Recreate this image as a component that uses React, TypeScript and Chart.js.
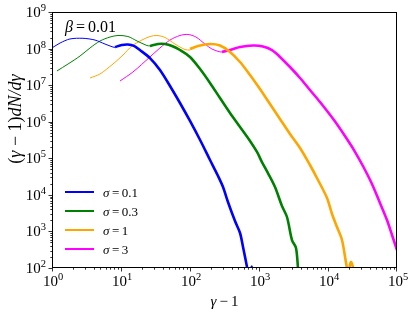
import React, { useEffect, useRef } from "react";
import { Chart, registerables } from "chart.js";

Chart.register(...registerables);

type Pt = [number, number];

// ---- data ----
const SIGMA_VALUES = ["0.1", "0.3", "1", "3"];
const SERIES_COLORS = ["#0000ff", "#008000", "#ffa500", "#ff00ff"];
const BETA_VALUE = "0.01";

// initial (thin) spectra
const sigma01Initial: Pt[] = [
  [1, 1.04e8], [1.31, 1.42e8], [1.82, 1.83e8], [2.81, 1.91e8], [4.2, 1.71e8],
  [5.86, 1.33e8], [7.66, 1.1e8], [8.19, 1.08e8],
];
const sigma03Initial: Pt[] = [
  [1.18, 2.44e7], [1.71, 3.79e7], [2.55, 6.27e7], [3.56, 1.04e8], [4.96, 1.61e8],
  [6.93, 2.07e8], [9.05, 2.28e8], [12.6, 2.14e8], [17.1, 1.61e8], [23.8, 1.21e8], [26.3, 1.18e8],
];
const sigma1Initial: Pt[] = [
  [3.56, 1.57e7], [4.96, 2.02e7], [7.66, 3.79e7], [10.7, 6.67e7], [14.4, 1.18e8],
  [20.1, 1.71e8], [26.3, 2.14e8], [33.2, 2.28e8], [43.4, 2.01e8], [60.6, 1.33e8],
  [84.7, 9.4e7], [100, 9.1e7],
];
const sigma3Initial: Pt[] = [
  [9.68, 1.3e7], [14.9, 2.29e7], [26.3, 5.9e7], [36.7, 1.04e8], [51.3, 1.71e8],
  [71.6, 2.28e8], [93.5, 2.43e8], [122, 2.07e8], [165, 1.33e8], [208, 9.7e7],
  [272, 8.1e7], [291, 8.1e7],
];

// final (thick) spectra
const sigma01Final: Pt[] = [
  [8.19, 1.1e8], [10.3, 1.25e8], [12.6, 1.29e8], [15.4, 1.18e8], [18.8, 9.1e7],
  [26.3, 5.5e7], [36.7, 2.6e7], [51.3, 9.5e6], [71.6, 3.25e6], [100, 1.05e6],
  [140, 3.16e5], [195, 8.98e4], [255, 3.28e4], [301, 1.64e4], [355, 6.4e3],
  [449, 1.93e3], [531, 906], [587, 375], [670, 106], [700, 55], [760, 70],
  [785, 110], [810, 70], [850, 40],
];
const sigma03Final: Pt[] = [
  [26.3, 1.18e8], [34.4, 1.33e8], [43.4, 1.33e8], [54.8, 1.18e8], [71.6, 9.14e7],
  [100, 5.88e7], [140, 2.76e7], [195, 1.15e7], [272, 4.45e6], [380, 1.73e6],
  [531, 7.16e5], [741, 2.97e5], [935, 1.49e5], [1104, 7.9e4], [1349, 3.95e4],
  [1706, 1.64e4], [2153, 4.96e3], [2545, 2.48e3], [3008, 582], [3436, 352],
  [3675, 100], [3800, 47],
];
const sigma1Final: Pt[] = [
  [100, 9.7e7], [131, 1.18e8], [195, 1.33e8], [272, 1.21e8], [380, 8.1e7],
  [531, 4.3e7], [741, 1.89e7], [1033, 7.84e6], [1443, 3.05e6], [2014, 1.19e6],
  [2813, 4.61e5], [3930, 1.91e5], [5480, 6.55e4], [7160, 2.55e4], [9680, 8.2e3],
  [11430, 2.99e3], [13500, 1.32e3], [15950, 582], [18500, 120], [19500, 75],
  [21500, 146], [23500, 90], [25000, 60],
];
const sigma3Final: Pt[] = [
  [291, 8.1e7], [380, 9.1e7], [531, 1.1e8], [818, 1.21e8], [1143, 1.14e8],
  [1543, 9.1e7], [2014, 5.9e7], [2813, 3.13e7], [3930, 1.57e7], [5480, 7.36e6],
  [7660, 3.46e6], [12200, 1.11e6], [17600, 4.07e5], [23800, 1.68e5], [32100, 6.15e4],
  [43400, 1.98e4], [56700, 5.98e3], [71600, 2.05e3], [84700, 798], [100000, 310],
];

const INITIAL_SERIES = [sigma01Initial, sigma03Initial, sigma1Initial, sigma3Initial];
const FINAL_SERIES = [sigma01Final, sigma03Final, sigma1Final, sigma3Final];

const X_MIN = 1;
const X_MAX = 1e5;
const Y_MIN = 1e2;
const Y_MAX = 1e9;
const X_TICK_EXPONENTS = [0, 1, 2, 3, 4, 5];
const Y_TICK_EXPONENTS = [2, 3, 4, 5, 6, 7, 8, 9];

// ---- drawing helpers ----
const SERIF = '"Liberation Serif", "DejaVu Serif", serif';

type Part = { t: string; italic?: boolean; size: number; rise?: number; gap?: number };

function partFont(p: Part) {
  return `${p.italic ? "italic " : ""}${p.size}px ${SERIF}`;
}

function measureParts(ctx: CanvasRenderingContext2D, parts: Part[]) {
  let w = 0;
  for (const p of parts) {
    ctx.font = partFont(p);
    w += ctx.measureText(p.t).width + (p.gap || 0);
  }
  return w;
}

function drawParts(ctx: CanvasRenderingContext2D, parts: Part[], x: number, baseline: number) {
  let cx = x;
  ctx.textBaseline = "alphabetic";
  ctx.textAlign = "left";
  for (const p of parts) {
    ctx.font = partFont(p);
    ctx.fillText(p.t, cx, baseline - (p.rise || 0));
    cx += ctx.measureText(p.t).width + (p.gap || 0);
  }
}

function powerParts(exp: number): Part[] {
  return [
    { t: "10", size: 15 },
    { t: String(exp), size: 10.5, rise: 6 },
  ];
}

const decorations = {
  id: "decorations",
  afterDraw(chart: any) {
    const { ctx, chartArea: a, scales } = chart;
    const xs = scales.x;
    const ys = scales.y;
    ctx.save();
    ctx.fillStyle = "#000";
    ctx.strokeStyle = "#000";

    // frame
    ctx.lineWidth = 1;
    const L = Math.round(a.left) + 0.5;
    const R = Math.round(a.right) - 0.5;
    const T = Math.round(a.top) + 0.5;
    const B = Math.round(a.bottom) - 0.5;
    ctx.strokeRect(L, T, R - L, B - T);

    // ticks (outward on bottom and left)
    ctx.lineWidth = 0.8;
    ctx.beginPath();
    for (let d = 0; d < 5; d++) {
      for (let m = 1; m <= 9; m++) {
        const v = m * Math.pow(10, d);
        if (v < X_MIN || v > X_MAX) continue;
        const px = Math.round(xs.getPixelForValue(v)) + 0.5;
        ctx.moveTo(px, B);
        ctx.lineTo(px, B + (m === 1 ? 4 : 2.2));
      }
    }
    {
      const px = Math.round(xs.getPixelForValue(X_MAX)) - 0.5;
      ctx.moveTo(px, B);
      ctx.lineTo(px, B + 4);
    }
    for (let d = 2; d < 9; d++) {
      for (let m = 1; m <= 9; m++) {
        const v = m * Math.pow(10, d);
        if (v < Y_MIN || v > Y_MAX) continue;
        const py = Math.round(ys.getPixelForValue(v)) + 0.5;
        ctx.moveTo(L, py);
        ctx.lineTo(L - (m === 1 ? 4 : 2.2), py);
      }
    }
    {
      const py = Math.round(ys.getPixelForValue(Y_MAX)) + 0.5;
      ctx.moveTo(L, py);
      ctx.lineTo(L - 4, py);
    }
    ctx.stroke();

    // x tick labels
    for (const e of X_TICK_EXPONENTS) {
      const px = xs.getPixelForValue(Math.pow(10, e));
      const parts = powerParts(e);
      const w = measureParts(ctx, parts);
      drawParts(ctx, parts, px - w / 2 + 1, a.bottom + 18);
    }
    // y tick labels
    for (const e of Y_TICK_EXPONENTS) {
      const py = ys.getPixelForValue(Math.pow(10, e));
      const parts = powerParts(e);
      const w = measureParts(ctx, parts);
      drawParts(ctx, parts, a.left - 6 - w, py + 5);
    }

    // x axis title
    {
      const parts: Part[] = [
        { t: "γ", italic: true, size: 15, gap: 3 },
        { t: "−", size: 15, gap: 3 },
        { t: "1", size: 15 },
      ];
      const w = measureParts(ctx, parts);
      drawParts(ctx, parts, (a.left + a.right) / 2 - w / 2, 306);
    }
    // y axis title
    {
      const parts: Part[] = [
        { t: "(", size: 18 },
        { t: "γ", italic: true, size: 18, gap: 4.5 },
        { t: "−", size: 18, gap: 4.5 },
        { t: "1)", size: 18 },
        { t: "dN/d", italic: true, size: 18 },
        { t: "γ", italic: true, size: 18 },
      ];
      const w = measureParts(ctx, parts);
      ctx.save();
      ctx.translate(21, 119);
      ctx.rotate(-Math.PI / 2);
      drawParts(ctx, parts, -w / 2, 0);
      ctx.restore();
    }

    // beta annotation
    drawParts(
      ctx,
      [
        { t: "β", italic: true, size: 16, gap: 3 },
        { t: "=", size: 16, gap: 3 },
        { t: BETA_VALUE, size: 16 },
      ],
      a.left + 13,
      a.top + 20
    );

    // legend
    const finals = chart.data.datasets.filter((d: any) => d.isFinal);
    finals.forEach((ds: any, i: number) => {
      const y = 192 + i * 19;
      ctx.strokeStyle = ds.borderColor;
      ctx.lineWidth = 2;
      ctx.beginPath();
      ctx.moveTo(a.left + 13, y);
      ctx.lineTo(a.left + 42, y);
      ctx.stroke();
      ctx.fillStyle = "#000";
      drawParts(
        ctx,
        [
          { t: "σ", italic: true, size: 13, gap: 2.5 },
          { t: "=", size: 13, gap: 2.5 },
          { t: ds.sigma, size: 13 },
        ],
        a.left + 51,
        y + 4.5
      );
    });

    ctx.restore();
  },
};

export default function App() {
  const canvasRef = useRef<HTMLCanvasElement | null>(null);

  useEffect(() => {
    const canvas = canvasRef.current;
    if (!canvas) return;
    const toXY = (pts: Pt[]) => pts.map(([x, y]) => ({ x, y }));
    const finalSets = FINAL_SERIES.map((pts, i) => ({
      label: "σ=" + SIGMA_VALUES[i],
      sigma: SIGMA_VALUES[i],
      isFinal: true,
      data: toXY(pts),
      borderColor: SERIES_COLORS[i],
      backgroundColor: SERIES_COLORS[i],
      borderWidth: 2.6,
      pointRadius: 0,
      showLine: true,
      fill: false,
      tension: 0.3,
      borderJoinStyle: "round",
      clip: 0,
    }));
    const initialSets = INITIAL_SERIES.map((pts, i) => ({
      label: "initial σ=" + SIGMA_VALUES[i],
      isFinal: false,
      data: toXY(pts),
      borderColor: SERIES_COLORS[i],
      backgroundColor: SERIES_COLORS[i],
      borderWidth: 1,
      pointRadius: 0,
      showLine: true,
      fill: false,
      tension: 0.3,
      clip: 0,
    }));

    const chart = new Chart(canvas, {
      type: "scatter",
      data: { datasets: [...finalSets, ...initialSets] as any },
      options: {
        animation: false,
        responsive: false,
        maintainAspectRatio: false,
        devicePixelRatio: 1,
        layout: { padding: { left: 52, top: 12, right: 18, bottom: 47 } },
        plugins: { legend: { display: false }, tooltip: { enabled: false } },
        events: [],
        scales: {
          x: { type: "logarithmic", min: X_MIN, max: X_MAX, display: false },
          y: { type: "logarithmic", min: Y_MIN, max: Y_MAX, display: false },
        },
      } as any,
      plugins: [decorations],
    });
    return () => chart.destroy();
  }, []);

  return (
    <div style={{ position: "absolute", left: 0, top: 0, width: 415, height: 315, background: "#fff" }}>
      <canvas ref={canvasRef} width={415} height={315} style={{ display: "block", width: 415, height: 315 }} />
    </div>
  );
}
